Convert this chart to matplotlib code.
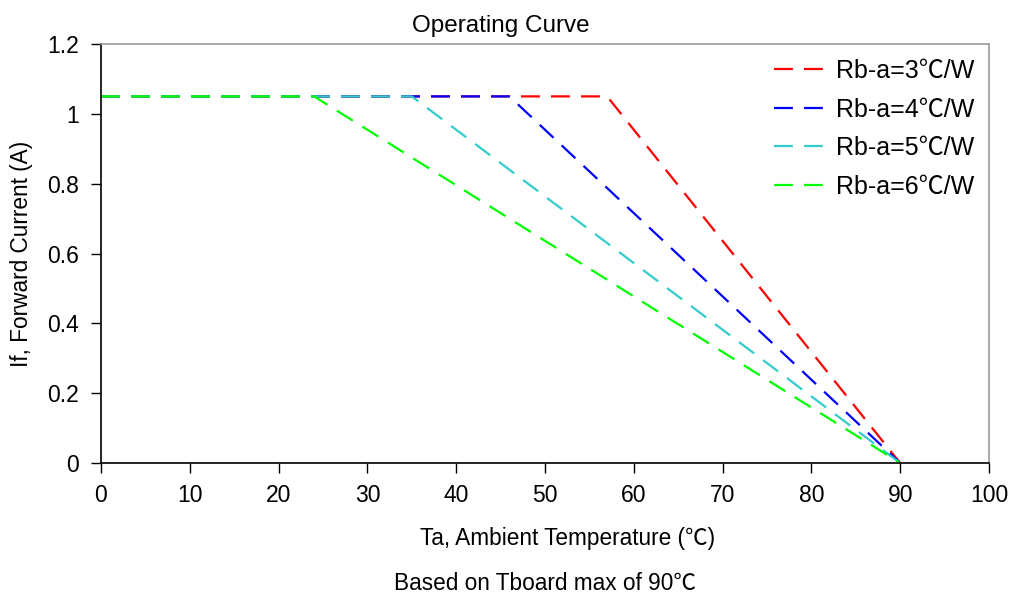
import matplotlib.pyplot as plt

plt.rcParams["font.family"] = ["Liberation Sans", "Noto Sans CJK JP", "DejaVu Sans"]

# 数据
series = ["Rb-a=3℃/W", "Rb-a=4℃/W", "Rb-a=5℃/W", "Rb-a=6℃/W"]
knees = [57, 46, 35, 24]
i_max = 1.05
t_max = 90
colors = ["#FF0000", "#0000FF", "#33CCCC", "#00FF00"]

fig = plt.figure(figsize=(10.14, 5.99), dpi=100)
ax = fig.add_axes([0.0996, 0.227, 0.8757, 0.6995])

for name, knee, c in zip(series, knees, colors):
    ax.plot([0, knee, t_max], [i_max, i_max, 0], color=c, lw=1.6,
            dashes=(8.5, 5), label=name)

ax.set_xlim(0, 100)
ax.set_ylim(0, 1.2)
ax.set_xticks(range(0, 101, 10))
ax.set_yticks([0, 0.2, 0.4, 0.6, 0.8, 1.0, 1.2])
ax.set_yticklabels(["0", "0.2", "0.4", "0.6", "0.8", "1", "1.2"])
ax.tick_params(axis="both", labelsize=16.5, direction="out", length=7, width=1)
ax.tick_params(axis="x", pad=8)
ax.tick_params(axis="y", pad=9)

for s in ["top", "right"]:
    ax.spines[s].set_color("#999999")
    ax.spines[s].set_linewidth(1.2)
for s in ["left", "bottom"]:
    ax.spines[s].set_color("black")
    ax.spines[s].set_linewidth(1.2)

# 标题在整张图居中(Excel风格)
ax.set_title("Operating Curve", fontsize=17.5, pad=9, x=0.45)
ax.set_xlabel("Ta, Ambient Temperature (℃)", fontsize=16.3)
ax.xaxis.set_label_coords(0.525, -0.153)
ax.set_ylabel("If, Forward Current (A)", fontsize=16.3, labelpad=10)

ax.legend(loc="upper right", frameon=False, fontsize=18, handlelength=2.0,
          handletextpad=0.45, labelspacing=0.58, borderaxespad=0.2)

fig.text(0.5375, 0.015, "Based on Tboard max of 90℃", ha="center", fontsize=16.3)

fig.savefig("out.png", dpi=100)
